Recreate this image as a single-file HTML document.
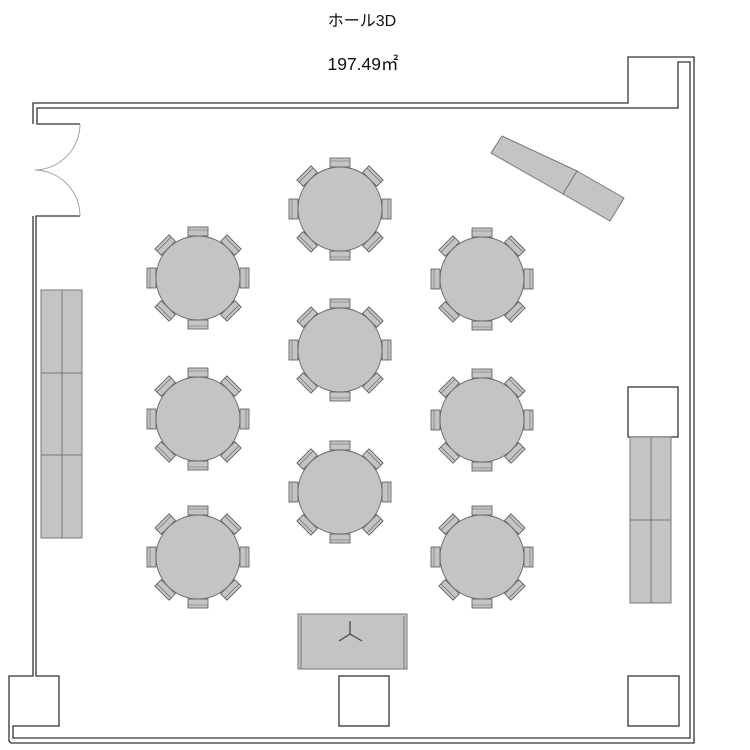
<!DOCTYPE html>
<html><head><meta charset="utf-8"><style>
html,body{margin:0;padding:0;background:#fff;width:750px;height:750px;overflow:hidden}
</style></head><body>
<svg width="750" height="750" viewBox="0 0 750 750" xmlns="http://www.w3.org/2000/svg">
<defs>
<g id="ch">
<rect x="-10" y="-51" width="20" height="9" fill="#c4c4c4" stroke="#555" stroke-width="0.8"/>
<line x1="-10" y1="-48" x2="10" y2="-48" stroke="#666" stroke-width="0.6"/>
</g>
<g id="tb">
<use href="#ch" transform="rotate(0)"/>
<use href="#ch" transform="rotate(45)"/>
<use href="#ch" transform="rotate(90)"/>
<use href="#ch" transform="rotate(135)"/>
<use href="#ch" transform="rotate(180)"/>
<use href="#ch" transform="rotate(225)"/>
<use href="#ch" transform="rotate(270)"/>
<use href="#ch" transform="rotate(315)"/>
<circle r="42" fill="#c4c4c4" stroke="#666" stroke-width="0.9"/>
</g>
</defs>
<text x="362" y="26" font-family="Liberation Sans, Noto Sans CJK JP, sans-serif" font-size="16" text-anchor="middle" fill="#111">ホール3D</text>
<text x="363" y="70" font-family="Liberation Sans, Noto Sans CJK JP, sans-serif" font-size="17.5" text-anchor="middle" fill="#111">197.49㎡</text>
<g fill="none" stroke="#333" stroke-width="1.3">
<polyline points="33,124 33,103 628,103 628,57 694,57 694,743 11,743 9,741 9,676 33,676 33,216"/>
<polyline points="80,124 37,124 37,108 678,108 678,62 690,62 690,738 13,738 13,726 59,726 59,676 36,676 36,216 80,216"/>
<rect x="339" y="676" width="50" height="50"/>
<rect x="628" y="676" width="51" height="50"/>
<rect x="628" y="387" width="50" height="50"/>
</g>
<path d="M80,124 A46,46 0 0 1 35,170 A46,46 0 0 1 80,216" fill="none" stroke="#999" stroke-width="0.9"/>
<g fill="#c4c4c4" stroke="#777" stroke-width="1">
<rect x="41" y="290" width="41" height="248"/>
<line x1="62" y1="290" x2="62" y2="538"/>
<line x1="41" y1="373" x2="82" y2="373"/>
<line x1="41" y1="455" x2="82" y2="455"/>
<rect x="630" y="437" width="41" height="166"/>
<line x1="651" y1="437" x2="651" y2="603"/>
<line x1="630" y1="520" x2="671" y2="520"/>
<polygon points="502,136 577,171 563,194 491,153"/>
<polygon points="577,171 624,198 610,221 563,194"/>
<rect x="298" y="614" width="109" height="55"/>
<line x1="301" y1="616" x2="301" y2="669"/>
<line x1="404" y1="616" x2="404" y2="669"/>
</g>
<g stroke="#444" stroke-width="1.2" fill="none">
<line x1="350" y1="621" x2="350" y2="634"/>
<line x1="350" y1="634" x2="339" y2="641"/>
<line x1="350" y1="634" x2="362" y2="641"/>
</g>
<use href="#tb" x="198" y="278"/>
<use href="#tb" x="198" y="419"/>
<use href="#tb" x="198" y="557"/>
<use href="#tb" x="340" y="209"/>
<use href="#tb" x="340" y="350"/>
<use href="#tb" x="340" y="492"/>
<use href="#tb" x="482" y="279"/>
<use href="#tb" x="482" y="420"/>
<use href="#tb" x="482" y="557"/>
</svg>
</body></html>
